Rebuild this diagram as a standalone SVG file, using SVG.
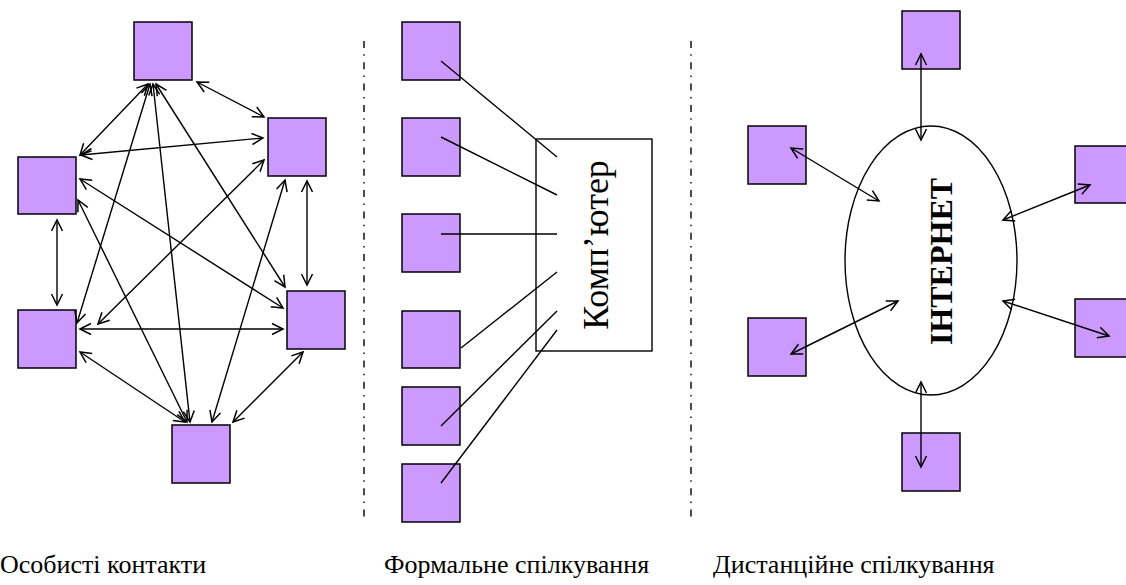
<svg xmlns="http://www.w3.org/2000/svg" width="1126" height="585" viewBox="0 0 1126 585">
  <style>
    .node { fill: #CC99FF; stroke: #000; stroke-width: 1.5; }
    .link { stroke: #000; stroke-width: 1.4; fill: none; }
    .both { marker-start: url(#ah); marker-end: url(#ah); }
    .sep { stroke: #000; stroke-width: 1.4; stroke-dasharray: 7 6.3 1.5 6.5; }
    .serif { font-family: "Liberation Serif", "Times New Roman", serif; fill: #000; }
    .caption { font-size: 26px; }
  </style>
  <defs>
    <marker id="ah" viewBox="-13 -7 15 14" refX="0" refY="0" markerWidth="15" markerHeight="14" markerUnits="userSpaceOnUse" orient="auto-start-reverse">
      <path d="M-11,-5.5 L0,0 L-11,5.5" fill="none" stroke="#000" stroke-width="1.5"/>
    </marker>
  </defs>

  <!-- separators -->
  <g id="separators">
    <line class="sep" x1="364" y1="41" x2="364" y2="518"/>
    <line class="sep" x1="691" y1="41" x2="691" y2="518"/>
  </g>

  <!-- personal contacts: every node linked with every other -->
  <g id="personal-nodes">
    <rect id="p-top" class="node" x="134" y="22" width="58" height="58"/>
    <rect id="p-left-upper" class="node" x="18" y="157" width="58" height="57"/>
    <rect id="p-right-upper" class="node" x="268" y="118" width="58" height="58"/>
    <rect id="p-left-lower" class="node" x="18" y="310" width="58" height="58"/>
    <rect id="p-right-lower" class="node" x="287" y="291" width="58" height="58"/>
    <rect id="p-bottom" class="node" x="172" y="425" width="58" height="58"/>
  </g>
  <g id="personal-links" class="link">
    <line class="both" x1="148" y1="84" x2="80" y2="155"/>
    <line class="both" x1="150" y1="84" x2="77" y2="323"/>
    <line class="both" x1="153" y1="84" x2="190" y2="422"/>
    <line class="both" x1="156" y1="84" x2="285" y2="287"/>
    <line class="both" x1="197" y1="82" x2="264" y2="117"/>
    <line class="both" x1="81" y1="155" x2="263" y2="138"/>
    <line class="both" x1="80" y1="179" x2="283" y2="308"/>
    <line class="both" x1="78" y1="200" x2="187" y2="422"/>
    <line class="both" x1="57" y1="220" x2="57" y2="305"/>
    <line class="both" x1="264" y1="160" x2="98" y2="324"/>
    <line class="both" x1="307" y1="181" x2="307" y2="285"/>
    <line class="both" x1="285" y1="180" x2="212" y2="422"/>
    <line class="both" x1="80" y1="329" x2="283" y2="329"/>
    <line class="both" x1="80" y1="352" x2="185" y2="422"/>
    <line class="both" x1="303" y1="352" x2="233" y2="422"/>
  </g>

  <!-- formal communication through a computer -->
  <g id="formal-nodes">
    <rect id="f-1" class="node" x="402" y="22" width="58" height="58"/>
    <rect id="f-2" class="node" x="402" y="118" width="58" height="58"/>
    <rect id="f-3" class="node" x="402" y="214" width="58" height="58"/>
    <rect id="f-4" class="node" x="402" y="311" width="58" height="57"/>
    <rect id="f-5" class="node" x="402" y="387" width="58" height="58"/>
    <rect id="f-6" class="node" x="402" y="464" width="58" height="58"/>
  </g>
  <g id="computer">
    <rect x="536" y="139" width="116" height="212" fill="#fff" stroke="#000" stroke-width="1.4"/>
    <text class="serif" transform="translate(608,245) rotate(-90)" text-anchor="middle" font-size="36">Комп’ютер</text>
  </g>
  <g id="formal-links" class="link">
    <line x1="441" y1="61" x2="557" y2="157"/>
    <line x1="441" y1="137" x2="557" y2="195"/>
    <line x1="441" y1="234" x2="557" y2="234"/>
    <line x1="461" y1="348" x2="557" y2="272"/>
    <line x1="441" y1="426" x2="557" y2="311"/>
    <line x1="441" y1="483" x2="557" y2="330"/>
  </g>

  <!-- remote communication via the Internet -->
  <g id="internet">
    <ellipse cx="931" cy="260.5" rx="86" ry="134.5" fill="#fff" stroke="#000" stroke-width="1.4"/>
    <text class="serif" transform="translate(952,261.5) rotate(-90)" text-anchor="middle" font-size="32" font-weight="bold">ІНТЕРНЕТ</text>
  </g>
  <g id="remote-nodes">
    <rect id="r-top" class="node" x="902" y="11" width="58" height="58"/>
    <rect id="r-left-upper" class="node" x="748" y="126" width="58" height="58"/>
    <rect id="r-right-upper" class="node" x="1075" y="146" width="58" height="57"/>
    <rect id="r-left-lower" class="node" x="748" y="318" width="58" height="58"/>
    <rect id="r-right-lower" class="node" x="1075" y="299" width="58" height="58"/>
    <rect id="r-bottom" class="node" x="902" y="433" width="58" height="58"/>
  </g>
  <g id="remote-links" class="link">
    <line class="both" x1="921" y1="54" x2="921" y2="140"/>
    <line class="both" x1="791" y1="148" x2="879" y2="201"/>
    <line class="both" x1="1090" y1="185" x2="1003" y2="220"/>
    <line class="both" x1="791" y1="354" x2="898" y2="301"/>
    <line class="both" x1="1003" y1="301" x2="1109" y2="336"/>
    <line class="both" x1="921" y1="382" x2="921" y2="467"/>
  </g>

  <!-- captions -->
  <g id="captions">
    <text class="serif caption" x="0" y="573">Особисті контакти</text>
    <text class="serif caption" x="384" y="573">Формальне спілкування</text>
    <text class="serif caption" x="713" y="573">Дистанційне спілкування</text>
  </g>
</svg>
